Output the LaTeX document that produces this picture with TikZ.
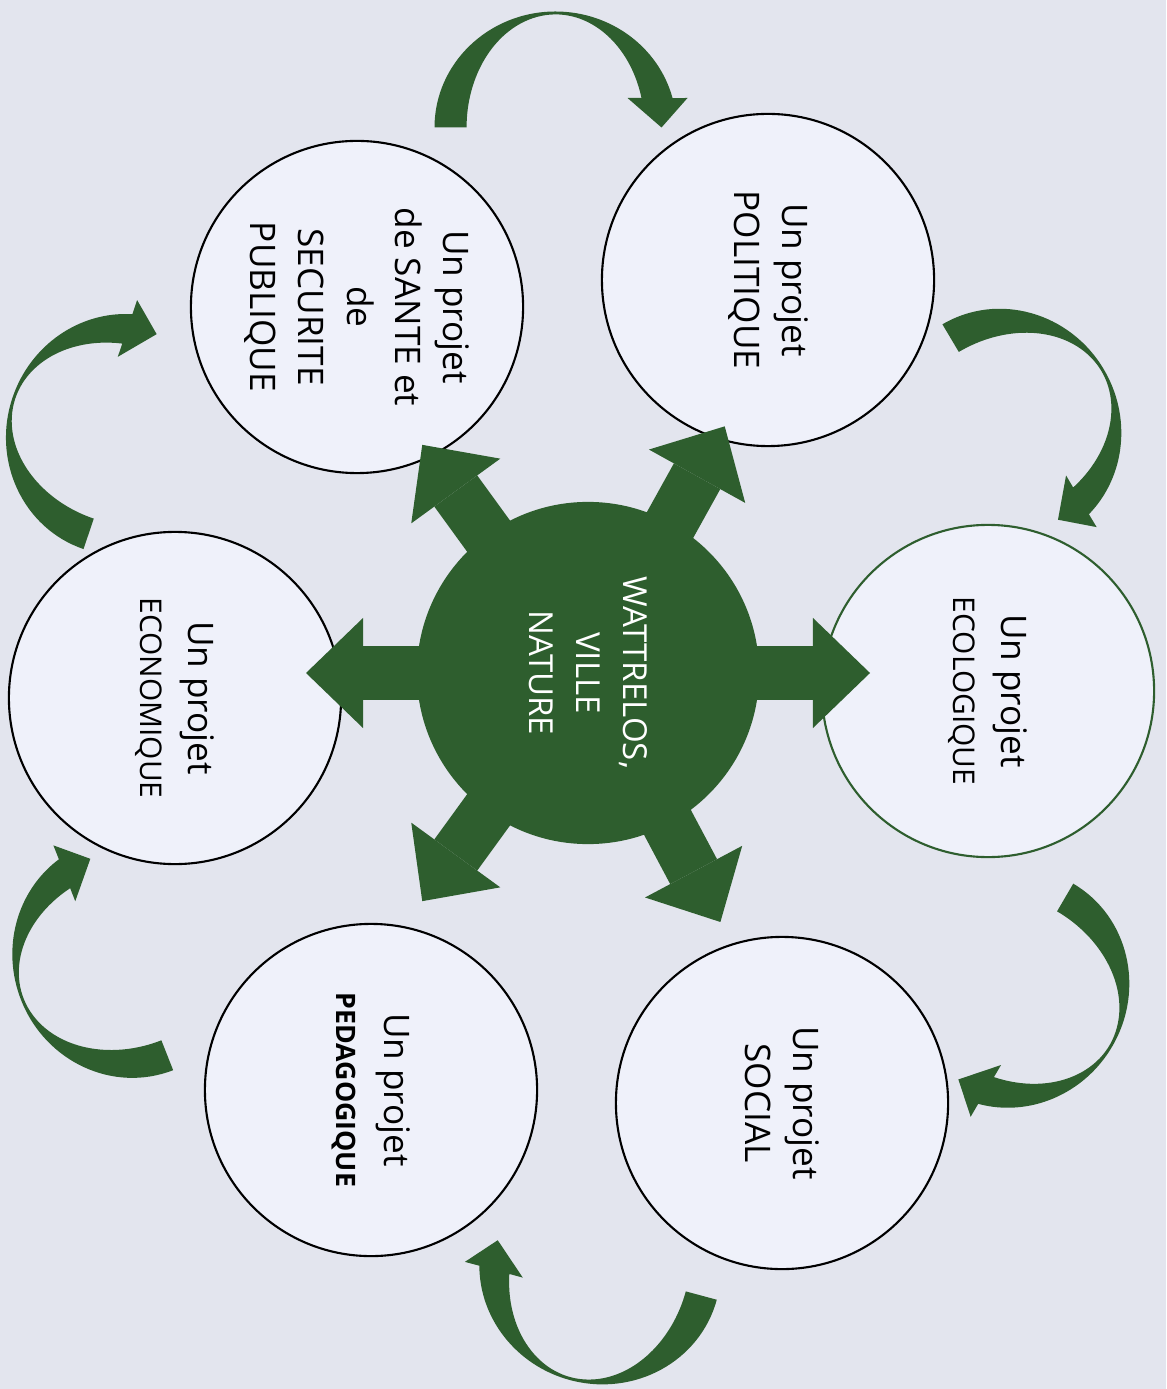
\documentclass[tikz,border=0pt]{standalone}
\usepackage{fontspec}
\setmainfont{Open Sans}
\usetikzlibrary{arrows.meta}
\definecolor{leaf}{RGB}{46,94,46}
\definecolor{paper}{RGB}{227,229,238}
\definecolor{bubble}{RGB}{239,241,250}
\newcommand{\smallcaps}[1]{{\fontsize{8.5}{11}\selectfont #1}}
\tikzset{
    projet/.style={circle, draw=black, line width=0.6pt, fill=bubble, minimum size=3.32cm,
        inner sep=0pt, align=center, rotate=-90, font=\fontsize{10}{13.7}\selectfont},
    hub/.style={circle, fill=leaf, minimum size=3.42cm, inner sep=0pt, text=white,
        align=center, rotate=-90, font=\fontsize{9.4}{13.4}\selectfont},
    spoke/.style={draw=leaf, line width=5.3mm, -{Triangle[length=5.7mm, width=11mm, line width=0pt]}},
    swoosh/.pic={
        \fill[leaf] (-121,0) arc[start angle=180, end angle=14.7, x radius=121, y radius=116]
            -- (132,29.5) -- (106,0) -- (72,29.5) -- (86,29.5)
            arc[start angle=15.1, end angle=180, x radius=89, y radius=113] -- cycle;
    }
}
\begin{document}
\begin{tikzpicture}[x=0.01cm, y=0.01cm]
    \fill[paper] (0,0) rectangle (1166,-1389);
    \useasboundingbox (0,0) rectangle (1166,-1389);

    \pic[rotate=0] at (555.5,-127.5) {swoosh};
    \pic[rotate=-59.4] at (1004,-428.5) {swoosh};
    \pic[rotate=-120.4] at (1012,-988) {swoosh};
    \pic[rotate=164.8] at (600,-1268) {swoosh};
    \pic[rotate=111.4] at (129,-957.5) {swoosh};
    \pic[rotate=71.2] at (122.5,-434.5) {swoosh};

    \node[projet] (pol) at (768,-280) {Un projet\\POLITIQUE};
    \node[projet] (sante) at (357,-307) {Un projet\\de SANTE et\\de\\SECURITE\\PUBLIQUE};
    \node[projet, draw=leaf] (eco) at (988,-691) {Un projet\\\smallcaps{ECOLOGIQUE}};
    \node[projet] (econ) at (175,-698) {Un projet\\\smallcaps{ECONOMIQUE}};
    \node[projet] (soc) at (782,-1103) {Un projet\\SOCIAL};
    \node[projet] (peda) at (371,-1090) {Un projet\\{\fontsize{7.6}{10}\selectfont\bfseries PEDAGOGIQUE}};
    \node[hub] (hub) at (588,-673) {WATTRELOS,\\VILLE\\NATURE};

    \draw[spoke] ([shift={(0:155)}]hub.center) -- ([shift={(0:282)}]hub.center);
    \draw[spoke] ([shift={(61:155)}]hub.center) -- ([shift={(61:282)}]hub.center);
    \draw[spoke] ([shift={(126:155)}]hub.center) -- ([shift={(126:282)}]hub.center);
    \draw[spoke] ([shift={(180:155)}]hub.center) -- ([shift={(180:282)}]hub.center);
    \draw[spoke] ([shift={(234:155)}]hub.center) -- ([shift={(234:282)}]hub.center);
    \draw[spoke] ([shift={(298:155)}]hub.center) -- ([shift={(298:282)}]hub.center);
\end{tikzpicture}
\end{document}
